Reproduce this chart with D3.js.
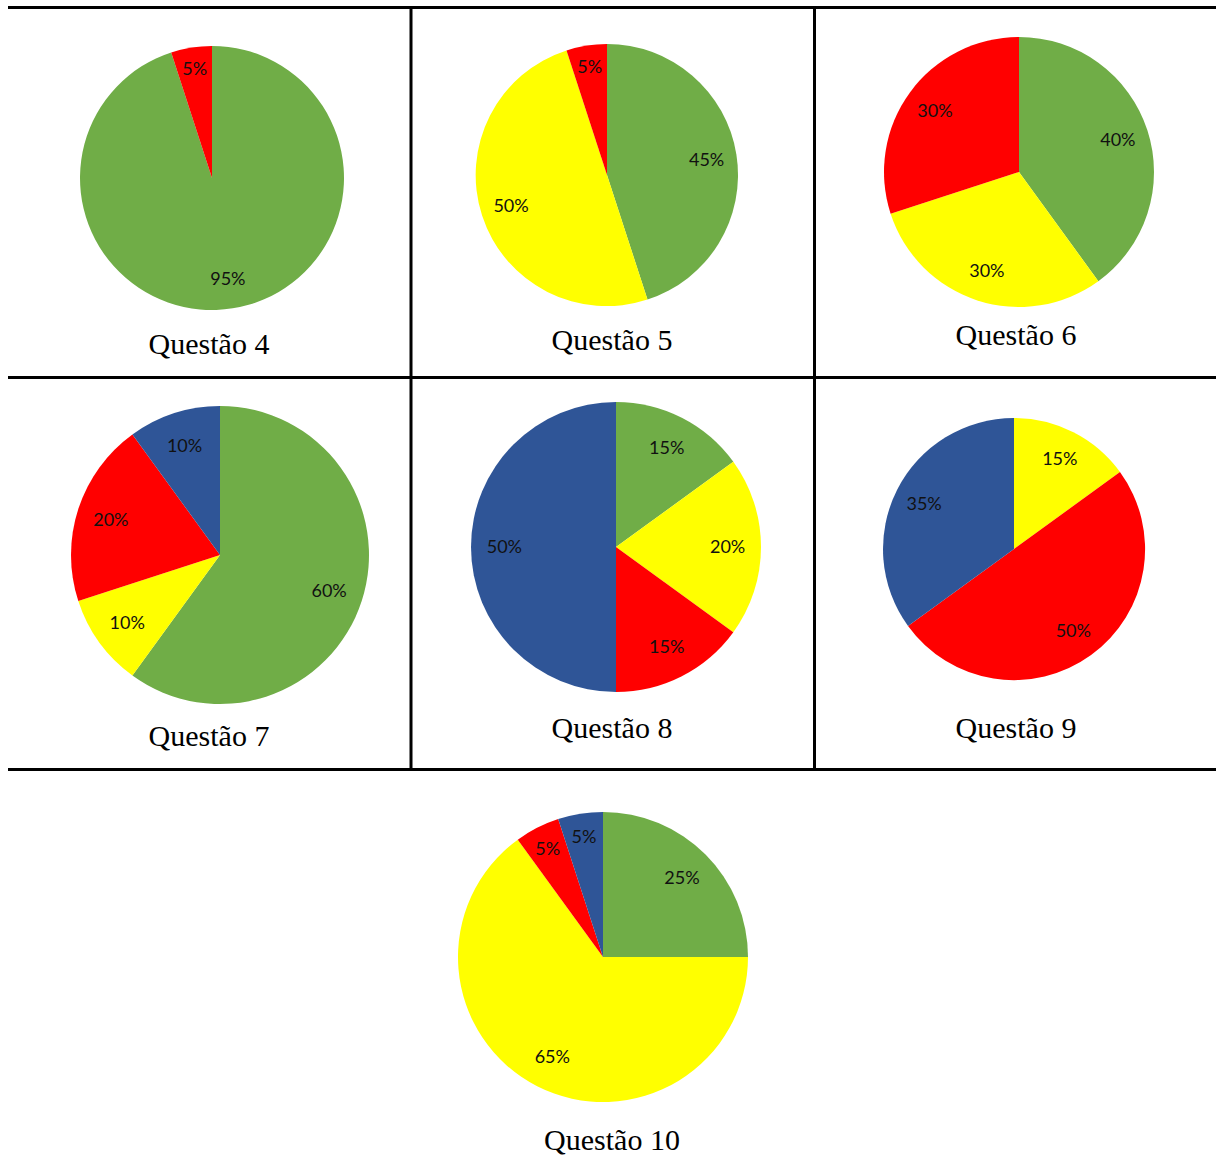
<!DOCTYPE html>
<html>
<head>
<meta charset="utf-8">
<script src="https://cdn.jsdelivr.net/npm/d3@7"></script>
<style>
  body { margin: 0; background: #fff; }
</style>
</head>
<body>
<script>
// data, one array per question (slices clockwise from 12 o'clock)
var titles = ["Questão 4", "Questão 5", "Questão 6", "Questão 7", "Questão 8", "Questão 9", "Questão 10"];
var q4 = [{k: "verde", v: 95}, {k: "vermelho", v: 5}];
var q5 = [{k: "verde", v: 45}, {k: "amarelo", v: 50}, {k: "vermelho", v: 5}];
var q6 = [{k: "verde", v: 40}, {k: "amarelo", v: 30}, {k: "vermelho", v: 30}];
var q7 = [{k: "verde", v: 60}, {k: "amarelo", v: 10}, {k: "vermelho", v: 20}, {k: "azul", v: 10}];
var q8 = [{k: "verde", v: 15}, {k: "amarelo", v: 20}, {k: "vermelho", v: 15}, {k: "azul", v: 50}];
var q9 = [{k: "amarelo", v: 15}, {k: "vermelho", v: 50}, {k: "azul", v: 35}];
var q10 = [{k: "verde", v: 25}, {k: "amarelo", v: 65}, {k: "vermelho", v: 5}, {k: "azul", v: 5}];
var allData = [q4, q5, q6, q7, q8, q9, q10];

var color = d3.scaleOrdinal()
  .domain(["verde", "amarelo", "vermelho", "azul"])
  .range(["#70AD47", "#FFFF00", "#FF0000", "#2F5597"]);

var width = 1216, height = 1156;

// layout: pie centre, radius and title baseline for every panel
var panels = [
  {cx: 212, cy: 178, r: 132, ty: 354, tx: 209},
  {cx: 607, cy: 175, r: 131, ty: 350, tx: 612},
  {cx: 1019, cy: 172, r: 135, ty: 345, tx: 1016},
  {cx: 220, cy: 555, r: 149, ty: 746, tx: 209},
  {cx: 616, cy: 547, r: 145, ty: 738, tx: 612},
  {cx: 1014, cy: 549, r: 131, ty: 738, tx: 1016},
  {cx: 603, cy: 957, r: 145, ty: 1150, tx: 612}
];

var svg = d3.select("body").append("svg")
  .attr("width", width)
  .attr("height", height);

// table borders
var lines = [
  [8, 7.5, 1216, 7.5],
  [8, 377.5, 1216, 377.5],
  [8, 769.5, 1216, 769.5],
  [411, 6, 411, 771],
  [814.5, 6, 814.5, 771]
];
svg.selectAll("line.border")
  .data(lines)
  .enter().append("line")
  .attr("class", "border")
  .attr("x1", function(d){ return d[0]; })
  .attr("y1", function(d){ return d[1]; })
  .attr("x2", function(d){ return d[2]; })
  .attr("y2", function(d){ return d[3]; })
  .attr("stroke", "#000")
  .attr("stroke-width", 3);

var pie = d3.pie()
  .value(function(d){ return d.v; })
  .sort(null);

allData.forEach(function(data, i){
  var p = panels[i];
  var g = svg.append("g")
    .attr("transform", "translate(" + p.cx + "," + p.cy + ")");

  var arc = d3.arc().innerRadius(0).outerRadius(p.r);
  var arcs = pie(data);

  g.selectAll("path")
    .data(arcs)
    .enter().append("path")
    .attr("d", arc)
    .attr("fill", function(d){ return color(d.data.k); });

  g.selectAll("text")
    .data(arcs)
    .enter().append("text")
    .attr("transform", function(d){
      var f = d.data.v < 10 ? 0.84 : 0.77;
      var lr = p.r * f;
      var a = (d.startAngle + d.endAngle) / 2;
      return "translate(" + (Math.sin(a) * lr) + "," + (-Math.cos(a) * lr) + ")";
    })
    .attr("dy", "0.35em")
    .attr("text-anchor", "middle")
    .attr("font-family", "Lato, 'Open Sans', sans-serif")
    .attr("font-size", 18)
    .attr("fill", "#111")
    .text(function(d){ return d.data.v + "%"; });

  svg.append("text")
    .attr("x", p.tx)
    .attr("y", p.ty)
    .attr("text-anchor", "middle")
    .attr("font-family", "'Liberation Serif', 'Times New Roman', serif")
    .attr("font-size", 30)
    .attr("fill", "#000")
    .text(titles[i]);
});
</script>
</body>
</html>
